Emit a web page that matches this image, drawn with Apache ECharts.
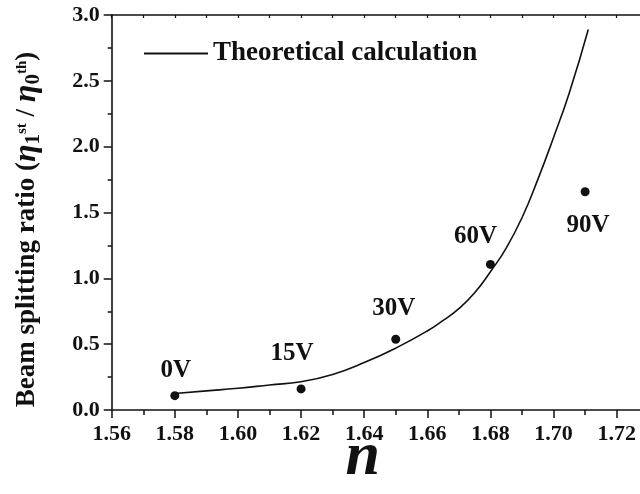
<!DOCTYPE html>
<html>
<head>
<meta charset="utf-8">
<script src="https://cdn.jsdelivr.net/npm/echarts@6/dist/echarts.min.js"></script>
<style>
html,body{margin:0;padding:0;background:#fff;overflow:hidden;}
#chart{width:640px;height:494px;}
</style>
</head>
<body>
<div id="chart"></div>
<script>
// Theoretical curve (n, ratio)
var curveN =     [1.580, 1.590, 1.600, 1.610, 1.620, 1.630, 1.640, 1.650, 1.660, 1.665, 1.670, 1.675, 1.680, 1.685, 1.690, 1.695, 1.700, 1.705, 1.711];
var curveRatio = [0.125, 0.145, 0.165, 0.190, 0.215, 0.270, 0.360, 0.470, 0.600, 0.680, 0.770, 0.890, 1.050, 1.230, 1.460, 1.750, 2.070, 2.410, 2.890];
// Measured points
var measN =     [1.58, 1.62, 1.65, 1.68, 1.71];
var measRatio = [0.109, 0.160, 0.537, 1.106, 1.658];
var measLabels = ['0V', '15V', '30V', '60V', '90V'];
var legendName = 'Theoretical calculation';

var FONT = '"Liberation Serif", "Times New Roman", serif';
var labelOffsets = [[1,-25],[-9,-35],[-2,-31],[-15,-28],[3,34]];

var curveData = curveN.map(function(n,i){ return [n, curveRatio[i]]; });
var measData = measN.map(function(n,i){
  return {
    value: [n, measRatio[i]],
    label: { show: true, formatter: measLabels[i], position: 'inside', offset: labelOffsets[i] }
  };
});

var chart = echarts.init(document.getElementById('chart'), null, {renderer:'canvas'});
var axisColor = '#111';
chart.setOption({
  animation: false,
  backgroundColor: '#fff',
  textStyle: { fontFamily: FONT },
  grid: { left: 111.7, top: 15, bottom: 84, right: -39.8, containLabel: false, outerBoundsMode: 'none' },
  legend: {
    data: [{ name: legendName, icon: 'rect' }],
    left: 139, top: 35,
    itemWidth: 64, itemHeight: 2,
    itemGap: 5,
    textStyle: { fontFamily: FONT, fontWeight: 'bold', fontSize: 27, color: '#111' }
  },
  xAxis: [{
    type: 'value',
    position: 'bottom',
    min: 1.56, max: 1.74, interval: 0.02,
    name: 'n',
    nameLocation: 'middle',
    nameGap: 17,
    nameMoveOverlap: false,
    nameTextStyle: { fontFamily: FONT, fontWeight: 'bold', fontStyle: 'italic', fontSize: 62, color: '#111', padding: [0,66,0,0] },
    axisLine: { show: true, onZero: false, lineStyle: { color: axisColor, width: 1.6 } },
    axisTick: { show: true, inside: false, length: 8, lineStyle: { color: axisColor, width: 1.5 } },
    minorTick: { show: true, splitNumber: 2, length: 5, lineStyle: { color: axisColor, width: 1.5 } },
    splitLine: { show: false },
    axisLabel: { show: true, margin: 13, fontFamily: FONT, fontWeight: 'bold', fontSize: 22, color: '#111',
      formatter: function(v){ return v.toFixed(2); } }
  },{
    type: 'value',
    position: 'top',
    min: 1.56, max: 1.74, interval: 0.01,
    axisLine: { show: true, onZero: false, lineStyle: { color: axisColor, width: 1.6 } },
    axisTick: { show: true, inside: true, length: 3, lineStyle: { color: axisColor, width: 1.2 } },
    splitLine: { show: false },
    axisLabel: { show: false }
  }],
  yAxis: {
    type: 'value',
    min: 0, max: 3, interval: 0.5,
    name: '{t|Beam splitting ratio (}{eta|η}{sub|1}{sup|st}{t| / }{eta|η}{sub|0}{sup|th}{t|)}',
    nameLocation: 'middle',
    nameRotate: 90,
    nameGap: 68,
    nameMoveOverlap: false,
    nameTextStyle: {
      color: '#111',
      padding: [0, 34, 0, 0],
      rich: {
        t:   { fontFamily: FONT, fontWeight: 'bold', fontSize: 27, color: '#111' },
        eta: { fontFamily: FONT, fontWeight: 'bold', fontStyle: 'italic', fontSize: 32, color: '#111' },
        sub: { fontFamily: FONT, fontWeight: 'bold', fontSize: 21, color: '#111', padding: [12,0,0,0] },
        sup: { fontFamily: FONT, fontWeight: 'bold', fontSize: 15, color: '#111', padding: [0,0,10,0] }
      }
    },
    axisLine: { show: true, onZero: false, lineStyle: { color: axisColor, width: 1.6 } },
    axisTick: { show: true, inside: false, length: 8, lineStyle: { color: axisColor, width: 1.5 } },
    minorTick: { show: true, splitNumber: 2, length: 4, lineStyle: { color: axisColor, width: 1.5 } },
    splitLine: { show: false },
    axisLabel: { show: true, margin: 12, fontFamily: FONT, fontWeight: 'bold', fontSize: 22, color: '#111',
      formatter: function(v){ return v.toFixed(1); } }
  },
  series: [{
    name: legendName,
    type: 'line',
    data: curveData,
    symbol: 'none',
    smooth: 0.5,
    lineStyle: { color: '#111', width: 1.6 },
    itemStyle: { color: '#111' },
    z: 2
  },{
    name: 'Measured',
    type: 'scatter',
    data: measData,
    symbol: 'circle',
    symbolSize: 9,
    itemStyle: { color: '#111', opacity: 1 },
    label: { fontFamily: FONT, fontWeight: 'bold', fontSize: 25, color: '#111' },
    z: 3
  }]
});
</script>
</body>
</html>
